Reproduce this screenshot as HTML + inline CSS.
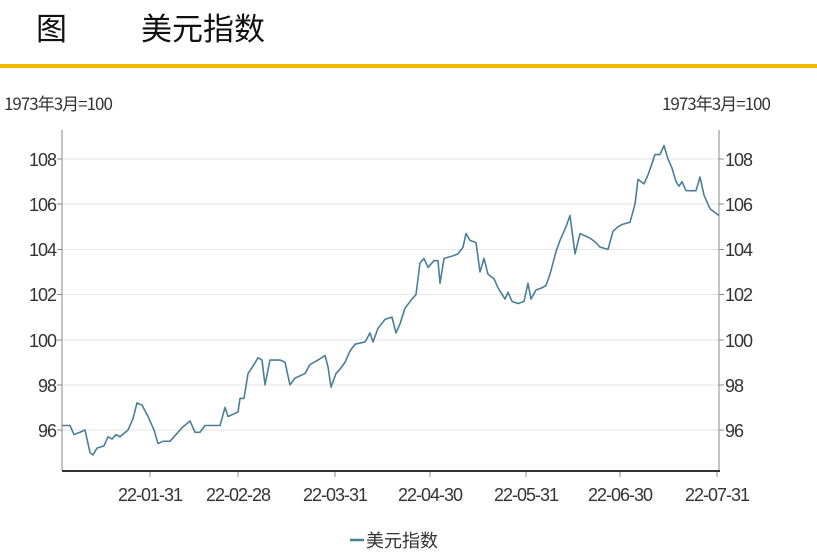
<!DOCTYPE html>
<html><head><meta charset="utf-8"><style>
body{margin:0;width:817px;height:553px;background:#fff;overflow:hidden;font-family:"Liberation Sans","Noto Sans CJK SC",sans-serif}
</style></head><body>
<svg width="817" height="553" xmlns="http://www.w3.org/2000/svg" style="position:absolute;left:0;top:0">
<text x="36" y="40" font-size="31" font-family="Noto Sans CJK SC, sans-serif" fill="#111">图</text>
<text x="141" y="40" font-size="31" font-family="Noto Sans CJK SC, sans-serif" fill="#111">美元指数</text>
<rect x="0" y="64" width="817" height="4" fill="#f5b800"/>
<g font-family="Liberation Sans, Noto Sans CJK SC, sans-serif" font-size="17" fill="#333">
<text x="4" y="110" font-family="Noto Sans CJK SC, sans-serif" font-size="17" letter-spacing="-1">1973年3月=100</text>
<text x="662" y="110" font-family="Noto Sans CJK SC, sans-serif" font-size="17" letter-spacing="-1">1973年3月=100</text>
</g>
<g stroke="#e6e6e6" stroke-width="1">
<line x1="62" x2="719" y1="159" y2="159"/><line x1="62" x2="719" y1="204" y2="204"/>
<line x1="62" x2="719" y1="249.5" y2="249.5"/><line x1="62" x2="719" y1="294.5" y2="294.5"/>
<line x1="62" x2="719" y1="340" y2="340"/><line x1="62" x2="719" y1="385" y2="385"/>
<line x1="62" x2="719" y1="430" y2="430"/>
</g>
<g stroke="#888" stroke-width="1">
<line x1="62" x2="62" y1="130" y2="471"/><line x1="719" x2="719" y1="130" y2="471"/>
<line x1="57" x2="62" y1="159" y2="159"/><line x1="57" x2="62" y1="204" y2="204"/><line x1="57" x2="62" y1="249.5" y2="249.5"/><line x1="57" x2="62" y1="294.5" y2="294.5"/><line x1="57" x2="62" y1="340" y2="340"/><line x1="57" x2="62" y1="385" y2="385"/><line x1="57" x2="62" y1="430" y2="430"/>
<line x1="719" x2="724" y1="159" y2="159"/><line x1="719" x2="724" y1="204" y2="204"/><line x1="719" x2="724" y1="249.5" y2="249.5"/><line x1="719" x2="724" y1="294.5" y2="294.5"/><line x1="719" x2="724" y1="340" y2="340"/><line x1="719" x2="724" y1="385" y2="385"/><line x1="719" x2="724" y1="430" y2="430"/>
<line x1="150" x2="150" y1="471" y2="477"/><line x1="238" x2="238" y1="471" y2="477"/><line x1="335" x2="335" y1="471" y2="477"/><line x1="430" x2="430" y1="471" y2="477"/><line x1="526" x2="526" y1="471" y2="477"/><line x1="620" x2="620" y1="471" y2="477"/><line x1="717" x2="717" y1="471" y2="477"/>
</g>
<line x1="62" x2="720" y1="471" y2="471" stroke="#333" stroke-width="2"/>
<g font-family="Liberation Sans, sans-serif" font-size="18" fill="#333" letter-spacing="-1">
<g text-anchor="end"><text x="56" y="166">108</text><text x="56" y="211">106</text><text x="56" y="256">104</text><text x="56" y="301">102</text><text x="56" y="347">100</text><text x="56" y="392">98</text><text x="56" y="437">96</text></g>
<text x="725" y="166">108</text><text x="725" y="211">106</text><text x="725" y="256">104</text><text x="725" y="301">102</text><text x="725" y="347">100</text><text x="725" y="392">98</text><text x="725" y="437">96</text>
<g text-anchor="middle"><text x="150" y="501">22-01-31</text><text x="238" y="501">22-02-28</text><text x="335" y="501">22-03-31</text><text x="430" y="501">22-04-30</text><text x="526" y="501">22-05-31</text><text x="620" y="501">22-06-30</text><text x="717" y="501">22-07-31</text></g>
</g>
<g transform="translate(0,2597.7) scale(1,-22.58)">
<polyline fill="none" stroke="#4a7f99" stroke-width="1.6" vector-effect="non-scaling-stroke" stroke-linejoin="round" points="62,96.2 70,96.2 74,95.8 80,95.9 85,96.0 90,95.0 93,94.9 97,95.2 104,95.3 108,95.7 112,95.6 116,95.8 120,95.7 128,96.0 133,96.5 137,97.2 142,97.1 148,96.6 154,96.0 158,95.4 163,95.5 170,95.5 176,95.8 182,96.1 190,96.4 195,95.9 200,95.9 205,96.2 214,96.2 220,96.2 225,97.0 228,96.6 233,96.7 238,96.8 240,97.4 244,97.4 248,98.5 254,98.9 258,99.2 262,99.1 265,98.0 270,99.1 280,99.1 285,99.0 290,98.0 295,98.3 305,98.5 310,98.9 318,99.1 325,99.3 328,98.8 331,97.9 336,98.5 340,98.7 345,99.0 350,99.5 355,99.8 365,99.9 370,100.3 373,99.9 378,100.5 385,100.9 392,101.0 396,100.3 400,100.7 405,101.4 412,101.8 416,102.0 420,103.4 424,103.6 428,103.2 434,103.5 438,103.5 440,102.5 444,103.6 452,103.7 458,103.8 463,104.1 466,104.7 470,104.4 476,104.3 480,103.0 484,103.6 488,102.9 494,102.7 498,102.3 505,101.8 508,102.1 512,101.7 518,101.6 524,101.7 528,102.5 531,101.8 536,102.2 542,102.3 546,102.4 550,102.9 556,103.9 560,104.4 566,105.0 570,105.5 575,103.8 580,104.7 590,104.5 596,104.3 600,104.1 608,104.0 613,104.8 618,105.0 622,105.1 630,105.2 635,106.0 638,107.1 644,106.9 648,107.3 652,107.8 655,108.2 660,108.2 664,108.6 668,108.0 672,107.6 676,107.0 679,106.8 682,107.0 686,106.6 696,106.6 700,107.2 704,106.4 710,105.8 719,105.5"/>
</g>
<line x1="350" x2="364" y1="540" y2="540" stroke="#4a7f99" stroke-width="2.5"/>
<text x="366" y="547" font-size="18" font-family="Noto Sans CJK SC, sans-serif" fill="#333">美元指数</text>
</svg>
</body></html>
